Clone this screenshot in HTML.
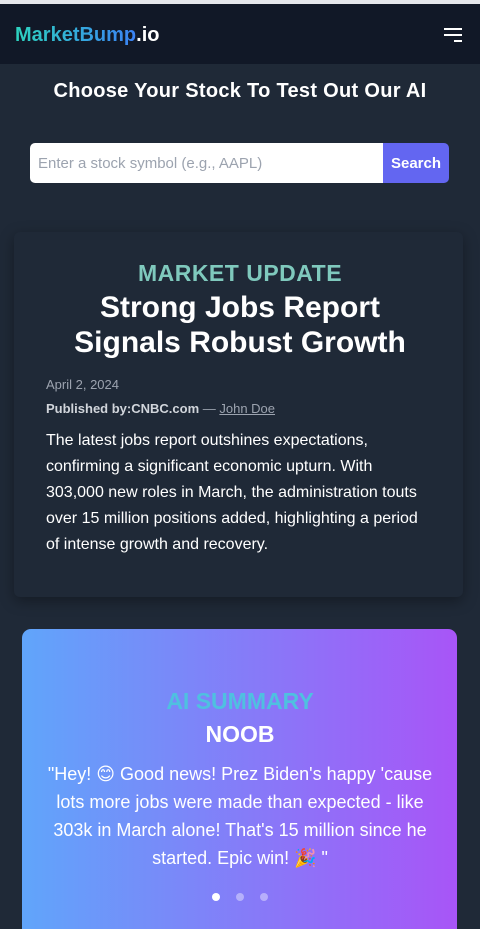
<!DOCTYPE html>
<html><head><meta charset="utf-8"><style>
*{box-sizing:border-box;margin:0;padding:0}
body{width:480px;height:925px;overflow:hidden;background:#1f2937;font-family:"Liberation Sans","DejaVu Sans",sans-serif;color:#fff;position:relative}
.topline{position:absolute;top:0;left:0;width:480px;height:4px;background:#e5e7eb}
header{position:absolute;top:4px;left:0;width:480px;height:60px;background:#111827}
.logo{position:absolute;left:15px;top:20px;font-size:20px;font-weight:bold}
.logo .g{background:linear-gradient(90deg,#2dd4bf,#3b82f6);-webkit-background-clip:text;background-clip:text;color:transparent}
.menu{position:absolute;left:444px;top:24px;width:18px}
.menu span{display:block;height:2px;background:#fff;margin-bottom:4px}
h2{position:absolute;top:80px;width:480px;text-align:center;font-size:20px;font-weight:900;letter-spacing:.3px}
.search{position:absolute;left:30px;top:143px;width:419px;height:40px;border-radius:5px;overflow:hidden;display:flex}
.search .in{flex:1;background:#fff;color:#9ca3af;font-size:15px;padding:12px 8px}
.search .btn{width:66px;background:#6366f1;font-weight:bold;font-size:15px;text-align:center;padding-top:12px}
.card{position:absolute;left:14px;top:232px;width:449px;height:365px;background:#1f2937;box-shadow:0 4px 14px rgba(0,0,0,.35);border-radius:6px}
.mu{position:absolute;top:260px;width:480px;text-align:center;font-size:23px;font-weight:bold;color:#7fc9bd;letter-spacing:.5px}
.title{position:absolute;top:290px;width:480px;text-align:center;font-size:30px;font-weight:bold;line-height:35px}
.date{position:absolute;left:46px;top:377px;font-size:13px;color:#9ca3af}
.pub{position:absolute;left:46px;top:401px;font-size:13px;color:#9ca3af}
.pub b{color:#d1d5db}.pub u{color:#9ca3af}
.body{position:absolute;left:46px;top:428px;width:420px;font-size:16px;line-height:26px;color:#fff;white-space:nowrap}
.ai{position:absolute;left:22px;top:629px;width:435px;height:300px;border-radius:9px 9px 0 0;background:linear-gradient(90deg,#60a5fa,#a855f7)}
.ait{position:absolute;top:688px;width:480px;text-align:center;font-size:23px;font-weight:bold;color:#4fc0e0}
.noob{position:absolute;top:721px;width:480px;text-align:center;font-size:23px;font-weight:bold}
.q{position:absolute;left:20px;top:760px;width:440px;text-align:center;font-size:18px;line-height:28px;white-space:nowrap}
.dots{position:absolute;top:893px;left:212px;display:flex;gap:16px}
.dots i{width:8px;height:8px;border-radius:50%;background:rgba(255,255,255,.4)}
.dots i:first-child{background:#fff}
</style></head><body>
<div class="topline"></div>
<header>
<div class="logo"><span class="g">MarketBump</span>.io</div>
<div class="menu"><span></span><span></span><span style="width:8px;margin-left:10px"></span></div>
</header>
<h2>Choose Your Stock To Test Out Our AI</h2>
<div class="search">
<div class="in">Enter a stock symbol (e.g., AAPL)</div>
<div class="btn">Search</div>
</div>
<div class="card"></div>
<div class="mu">MARKET UPDATE</div>
<div class="title">Strong Jobs Report<br>Signals Robust Growth</div>
<div class="date">April 2, 2024</div>
<div class="pub"><b>Published by:CNBC.com</b> — <u>John Doe</u></div>
<div class="body">The latest jobs report outshines expectations,<br>confirming a significant economic upturn. With<br>303,000 new roles in March, the administration touts<br>over 15 million positions added, highlighting a period<br>of intense growth and recovery.</div>
<div class="ai"></div>
<div class="ait">AI SUMMARY</div>
<div class="noob">NOOB</div>
<div class="q">"Hey! 😊 Good news! Prez Biden's happy 'cause<br>lots more jobs were made than expected - like<br>303k in March alone! That's 15 million since he<br>started. Epic win! 🎉 "</div>
<div class="dots"><i></i><i></i><i></i></div>
</body></html>
